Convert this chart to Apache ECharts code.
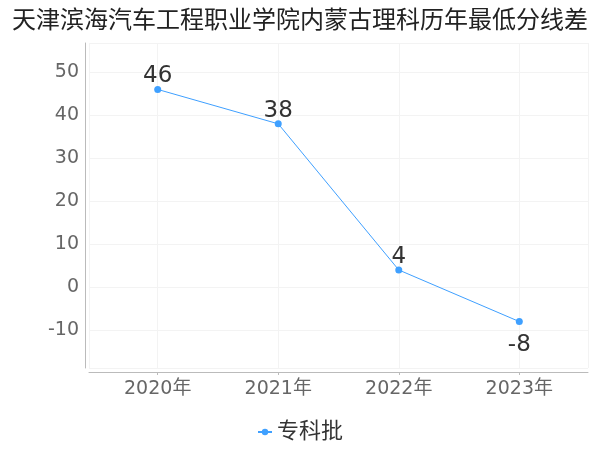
<!DOCTYPE html>
<html><head><meta charset="utf-8">
<script src="https://cdn.jsdelivr.net/npm/echarts@6/dist/echarts.min.js"></script>
<style>html,body{margin:0;padding:0;background:#fff}#c{width:600px;height:450px}</style>
</head><body><div id="c"></div>
<script>
const titleText = '天津滨海汽车工程职业学院内蒙古理科历年最低分线差';
const categories = ['2020年', '2021年', '2022年', '2023年'];
const seriesName = '专科批';
const values = [46, 38, 4, -8];

const FONT = 'DejaVu Sans, Noto Sans CJK SC, sans-serif';
const chart = echarts.init(document.getElementById('c'));
chart.setOption({
  backgroundColor: '#fff',
  animation: false,
  title: { text: titleText, left: 'center', top: 5,
    textStyle: { fontFamily: FONT, fontSize: 24, fontWeight: 'normal', color: '#222' } },
  legend: { data: [seriesName], bottom: 2, left: 'center', itemWidth: 14, itemHeight: 8, itemGap: 6,
    textStyle: { fontFamily: FONT, fontSize: 22, color: '#333' } },
  grid: { left: 89, right: 12, top: 43, bottom: 82, containLabel: false },
  xAxis: {
    type: 'value', min: -0.57, max: 3.57, offset: 4,
    axisLine: { show: true, onZero: false, lineStyle: { color: '#bbb' } },
    axisTick: { show: true, length: 3, lineStyle: { color: '#bbb' } },
    axisLabel: { showMinLabel: false, showMaxLabel: false, fontFamily: FONT, fontSize: 19, color: '#666', margin: 8,
      formatter: v => (Number.isInteger(v) && categories[v] !== undefined) ? categories[v] : '' },
    splitLine: { show: true, lineStyle: { color: '#f3f3f3' } }
  },
  yAxis: {
    type: 'value', min: -18.8, max: 56.8, splitNumber: 7, offset: 4,
    axisLine: { show: true, onZero: false, lineStyle: { color: '#bbb' } },
    axisTick: { show: false },
    axisLabel: { showMinLabel: false, showMaxLabel: false, fontFamily: FONT, fontSize: 19, color: '#666', margin: 6 },
    splitLine: { show: true, lineStyle: { color: '#f3f3f3' } }
  },
  series: [{
    name: seriesName, type: 'line',
    data: values.map((v, i) => ({
      value: [i, v],
      label: { position: v < 0 ? 'bottom' : 'top', distance: v < 0 ? 8 : -2 }
    })),
    symbol: 'circle', symbolSize: 7,
    itemStyle: { color: '#3fa0ff' },
    lineStyle: { color: '#3fa0ff', width: 1 },
    label: { show: true, fontFamily: FONT, fontSize: 23, color: '#333',
      formatter: p => p.value[1] }
  }]
});
</script></body></html>
